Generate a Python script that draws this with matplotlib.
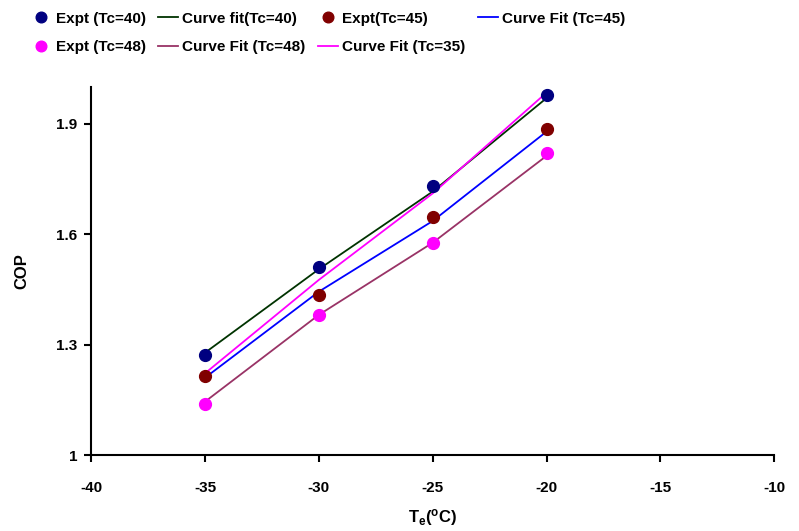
import numpy as np
import matplotlib.pyplot as plt

plt.rcParams['font.family'] = ['Liberation Sans', 'DejaVu Sans']
plt.rcParams['font.weight'] = 'bold'
plt.rcParams['axes.unicode_minus'] = False
plt.rcParams['mathtext.fontset'] = 'custom'
plt.rcParams['mathtext.rm'] = 'Liberation Sans:bold'
plt.rcParams['mathtext.it'] = 'Liberation Sans:bold'
plt.rcParams['mathtext.bf'] = 'Liberation Sans:bold'

te = [-35, -30, -25, -20]

# experimental points
expt40 = [1.272, 1.512, 1.730, 1.979]
expt45 = [1.216, 1.435, 1.648, 1.886]
expt48 = [1.138, 1.381, 1.577, 1.822]

# curve fits
fit40 = [1.278, 1.505, 1.716, 1.970]
fit45 = [1.210, 1.444, 1.636, 1.879]
fit48 = [1.145, 1.381, 1.577, 1.813]
fit35 = [1.222, 1.476, 1.711, 1.985]

fig = plt.figure(figsize=(7.99, 5.31), dpi=100)
ax = fig.add_axes([0.114, 0.143, 0.855, 0.693])

lw = 1.3
h_f40, = ax.plot(te, fit40, color='#003300', lw=lw, label='Curve fit(Tc=40)')
h_f45, = ax.plot(te, fit45, color='#0000ff', lw=lw, label='Curve Fit (Tc=45)')
h_f48, = ax.plot(te, fit48, color='#993366', lw=lw, label='Curve Fit (Tc=48)')
h_f35, = ax.plot(te, fit35, color='#ff00ff', lw=lw, label='Curve Fit (Tc=35)')
h_e40, = ax.plot(te, expt40, 'o', color='#000080', ms=8.5, label='Expt (Tc=40)')
h_e45, = ax.plot(te, expt45, 'o', color='#800000', ms=8.5, label='Expt(Tc=45)')
h_e48, = ax.plot(te, expt48, 'o', color='#ff00ff', ms=8.5, label='Expt (Tc=48)')

ax.set_xlim(-40, -10)
ax.set_ylim(1, 2.0)
ax.set_xticks([-40, -35, -30, -25, -20, -15, -10])
ax.set_yticks([1, 1.3, 1.6, 1.9])
ax.set_yticklabels(['1', '1.3', '1.6', '1.9'])
ax.tick_params(labelsize=11, width=1.5, length=5)
ax.tick_params(axis='x', pad=14)
ax.tick_params(axis='y', pad=5)
for s in ['top', 'right']:
    ax.spines[s].set_visible(False)
for s in ['left', 'bottom']:
    ax.spines[s].set_linewidth(1.5)

ax.set_xlabel(r'T$_e$($^o$C)', fontsize=12, fontweight='bold', labelpad=8)
ax.set_ylabel('COP', fontsize=12, fontweight='bold', labelpad=19)

handles = [h_e40, h_e48, h_f40, h_f48, h_e45, h_f35, h_f45]
fig.legend(handles=handles, labels=[h.get_label() for h in handles],
           ncol=4, loc='upper left', bbox_to_anchor=(0.022, 1.004),
           frameon=False, fontsize=11, handlelength=1.3, handletextpad=0.3,
           columnspacing=0.8, labelspacing=0.95, markerscale=0.9)

fig.savefig('out.png', dpi=100)
